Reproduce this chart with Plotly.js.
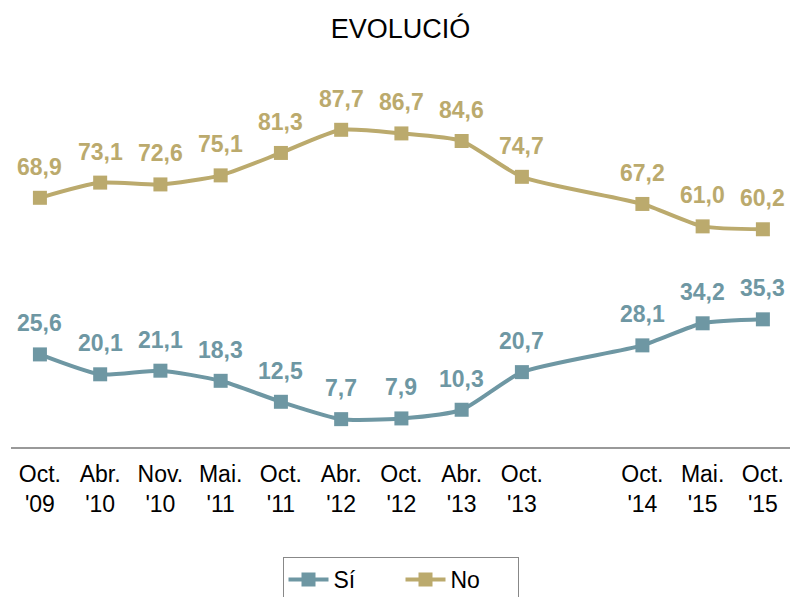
<!DOCTYPE html>
<html>
<head>
<meta charset="utf-8">
<script src="https://cdn.plot.ly/plotly-3.0.1.min.js"></script>
<style>html,body{margin:0;padding:0;background:#fff;}#chart{width:790px;height:597px;}</style>
</head>
<body>
<div id="chart"></div>
<script>
// Categories (the blank " " is an empty slot on the category axis, as in the original)
const categories = ["Oct.<br>'09", "Abr.<br>'10", "Nov.<br>'10", "Mai.<br>'11", "Oct.<br>'11", "Abr.<br>'12", "Oct.<br>'12", "Abr.<br>'13", "Oct.<br>'13", " ", "Oct.<br>'14", "Mai.<br>'15", "Oct.<br>'15"];
const siValues = [25.6, 20.1, 21.1, 18.3, 12.5, 7.7, 7.9, 10.3, 20.7, null, 28.1, 34.2, 35.3];
const noValues = [68.9, 73.1, 72.6, 75.1, 81.3, 87.7, 86.7, 84.6, 74.7, null, 67.2, 61.0, 60.2];

const siColor = '#6E97A3';
const noColor = '#BBAA6D';
const fontFam = 'Liberation Sans, Arial, sans-serif';

function fmt(v){ return v.toFixed(1).replace('.', ','); }

function trace(name, vals, color){
  return {
    x: categories, y: vals, name: name, type: 'scatter', mode: 'lines+markers',
    connectgaps: true,
    line: {color: color, width: 4, shape: 'spline', smoothing: 0.6},
    marker: {symbol: 'square', size: 14, color: color}
  };
}

function labels(vals, color){
  const out = [];
  vals.forEach((v, i) => {
    if (v === null) return;
    out.push({x: categories[i], y: v, xref: 'x', yref: 'y', text: fmt(v), showarrow: false,
      yshift: 31, font: {family: fontFam, size: 23, color: color, weight: 'bold'}});
  });
  return out;
}

const data = [trace('Sí', siValues, siColor), trace('No', noValues, noColor)];

const layout = {
  width: 790, height: 597,
  margin: {l: 11, r: 0, t: 60, b: 150},
  paper_bgcolor: '#fff', plot_bgcolor: '#fff',
  title: {text: 'EVOLUCIÓ', font: {family: fontFam, size: 27, color: '#000'},
    x: 0.5, xref: 'paper', y: 1 - 29/597, yref: 'container', yanchor: 'middle'},
  xaxis: {type: 'category', categoryorder: 'array', categoryarray: categories,
    range: [-0.48, 12.45], showgrid: false, zeroline: false,
    showline: true, linecolor: '#999', linewidth: 1.5, ticks: '', automargin: false,
    ticklabelstandoff: 6,
    tickfont: {family: fontFam, size: 23, color: '#000'}},
  yaxis: {range: [0, 107], showgrid: false, zeroline: false, showline: false,
    showticklabels: false, ticks: '', automargin: false},
  showlegend: true,
  legend: {orientation: 'h', x: 0.5, xanchor: 'center', xref: 'paper',
    y: 1 - 557/597, yref: 'container', yanchor: 'top',
    bordercolor: '#888', borderwidth: 1, bgcolor: '#fff', entrywidth: 62,
    font: {family: fontFam, size: 23, color: '#000'}, itemwidth: 40},
  annotations: labels(siValues, siColor).concat(labels(noValues, noColor))
};

Plotly.newPlot('chart', data, layout, {displayModeBar: false, staticPlot: true});
</script>
</body>
</html>
